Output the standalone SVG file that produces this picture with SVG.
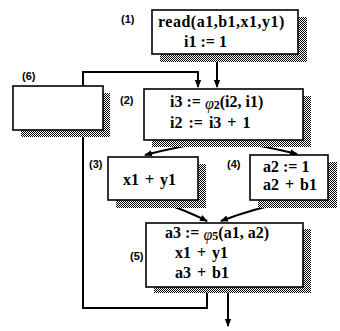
<svg xmlns="http://www.w3.org/2000/svg" width="340" height="331" viewBox="0 0 340 331">
<defs>
<pattern id="stip" width="2" height="2" patternUnits="userSpaceOnUse">
<rect width="2" height="2" fill="#fff"/>
<rect width="1" height="1" fill="#000"/>
<rect x="1" y="1" width="1" height="1" fill="#000"/>
</pattern>
<marker id="ah" markerWidth="8" markerHeight="8" refX="7" refY="4" orient="auto" markerUnits="userSpaceOnUse">
<path d="M0,0.8 L8,4 L0,7.2 Z" fill="#000"/>
</marker>
</defs>
<style>
.box{fill:#fff;stroke:#000;stroke-width:1.6}
.sh{fill:url(#stip)}
.t{font-family:"Liberation Serif","Times New Roman",serif;font-weight:bold;font-size:16px;fill:#000}
.w{word-spacing:2px}
.phi{font-style:italic;font-weight:normal;font-size:16px}
.sub{font-size:12px}
.lb{font-family:"Liberation Sans",Arial,sans-serif;font-weight:bold;font-size:11px;fill:#000}
.c{fill:none;stroke:#000;stroke-width:2}
</style>
<rect width="340" height="331" fill="#fff"/>
<g id="connectors">
<path class="c" d="M217,55 V87" marker-end="url(#ah)"/>
<path class="c" d="M207,287 V308 H83 V72 H198 V87" marker-end="url(#ah)"/>
<path class="c" d="M214,141 Q180,146 145,155" marker-end="url(#ah)"/>
<path class="c" d="M230,141 Q265,146 297,154" marker-end="url(#ah)"/>
<path class="c" d="M158,201 Q185,210 207,221" marker-end="url(#ah)"/>
<path class="c" d="M292,201 Q255,208 221,221" marker-end="url(#ah)"/>
<path class="c" d="M228,287 V326" marker-end="url(#ah)"/>
</g>
<g id="n1">
<rect class="sh" x="160" y="17" width="147" height="45"/>
<rect class="box" x="152" y="10" width="146" height="44"/>
<text class="t" x="158" y="27" letter-spacing="0.5">read(a1,b1,x1,y1)</text>
<text class="t" x="184" y="47">i1 := 1</text>
<text class="lb" x="121" y="23">(1)</text>
</g>
<g id="n6">
<rect class="sh" x="21" y="93" width="89" height="44"/>
<rect class="box" x="13" y="86" width="90" height="44"/>
<text class="lb" x="22" y="80">(6)</text>
</g>
<g id="n2">
<rect class="sh" x="152" y="96" width="159" height="51"/>
<rect class="box" x="144" y="89" width="159" height="51"/>
<text class="t" x="170" y="107">i3 := <tspan class="phi" dy="2">φ</tspan><tspan class="sub">2</tspan><tspan dy="-2">(i2, i1)</tspan></text>
<text class="t w" x="170" y="128">i2 := i3 + 1</text>
<text class="lb" x="120" y="104">(2)</text>
</g>
<g id="n3">
<rect class="sh" x="116" y="164" width="90" height="44"/>
<rect class="box" x="108" y="157" width="90" height="43"/>
<text class="t w" x="123" y="185">x1 + y1</text>
<text class="lb" x="89" y="168">(3)</text>
</g>
<g id="n4">
<rect class="sh" x="258" y="162" width="79" height="46"/>
<rect class="box" x="250" y="155" width="78" height="45"/>
<text class="t" x="263" y="172">a2 := 1</text>
<text class="t w" x="263" y="190">a2 + b1</text>
<text class="lb" x="227" y="168">(4)</text>
</g>
<g id="n5">
<rect class="sh" x="154" y="229" width="157" height="64"/>
<rect class="box" x="146" y="223" width="157" height="64"/>
<text class="t" x="165" y="238">a3 := <tspan class="phi" dy="2">φ</tspan><tspan class="sub">5</tspan><tspan dy="-2">(a1, a2)</tspan></text>
<text class="t w" x="175" y="258">x1 + y1</text>
<text class="t w" x="175" y="278">a3 + b1</text>
<text class="lb" x="130" y="260">(5)</text>
</g>
</svg>
